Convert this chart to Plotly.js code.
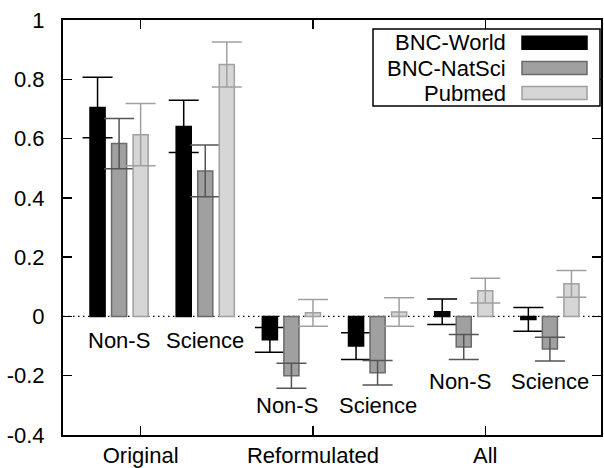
<!DOCTYPE html>
<html>
<head>
<meta charset="utf-8">
<script src="https://cdn.plot.ly/plotly-3.0.1.min.js"></script>
<style>html,body{margin:0;padding:0;background:#fff;}#chart{width:604px;height:468px;}</style>
</head>
<body>
<div id="chart"></div>
<script>
// ---- data ----
const clusterLabels = ['Non-S', 'Science', 'Non-S', 'Science', 'Non-S', 'Science'];
const groupLabels = ['Original', 'Reformulated', 'All'];
const seriesNames = ['BNC-World', 'BNC-NatSci', 'Pubmed'];
const bncWorld = [0.705, 0.641, -0.079, -0.100, 0.016, -0.010];
const bncWorldErr = [0.102, 0.088, 0.042, 0.045, 0.043, 0.040];
const bncNatSci = [0.583, 0.491, -0.200, -0.190, -0.103, -0.110];
const bncNatSciErr = [0.085, 0.087, 0.042, 0.041, 0.042, 0.040];
const pubmed = [0.613, 0.850, 0.012, 0.015, 0.087, 0.110];
const pubmedErr = [0.105, 0.076, 0.045, 0.048, 0.042, 0.045];
const yTickVals = [-0.4, -0.2, 0, 0.2, 0.4, 0.6, 0.8, 1];
const yTickText = ['-0.4', '-0.2', '0', '0.2', '0.4', '0.6', '0.8', '1'];

// ---- styling ----
const FONT = 'Liberation Sans, Arial, sans-serif';
const FS = 22;
const fills = ['#000000', '#a0a0a0', '#d6d6d6'];
const borders = ['#000000', '#6a6a6a', '#a0a0a0'];
const errColors = ['#000000', '#555555', '#a0a0a0'];
const values = [bncWorld, bncNatSci, pubmed];
const errs = [bncWorldErr, bncNatSciErr, pubmedErr];
const xs = clusterLabels.map((_, i) => i);

const traces = seriesNames.map((name, k) => ({
  type: 'bar',
  name: name,
  x: xs,
  y: values[k],
  marker: {color: fills[k], line: {color: borders[k], width: 1.5}},
  error_y: {type: 'data', array: errs[k], visible: true, color: errColors[k], thickness: 1.5, width: 15},
  showlegend: false,
  hoverinfo: 'skip'
}));

// cluster labels (inside the plot)
const labelY = [-0.08, -0.08, -0.30, -0.30, -0.22, -0.22];
const annotations = clusterLabels.map((t, i) => ({
  text: t, x: i, y: labelY[i], xref: 'x', yref: 'y',
  showarrow: false, xanchor: 'center', yanchor: 'middle',
  xshift: (t === 'Non-S' && i > 0) ? -4 : 0,
  font: {family: FONT, size: FS, color: '#000'}
}));

// custom gnuplot-style legend: text right-aligned, swatch on the right
const L = 63, R = 601, T = 20, B = 435;
const px = v => (v - L) / (R - L);
const py = v => (B - v) / (B - T);
const rowY = [42.7, 68, 93];
const shapes = [
  {type: 'line', xref: 'paper', yref: 'y', x0: 0, x1: 1, y0: 0, y1: 0,
   line: {color: '#000', width: 1.2, dash: '1.5px,3.5px'}, layer: 'below'},
  {type: 'rect', xref: 'paper', yref: 'paper', x0: px(373), x1: px(600), y0: py(106), y1: py(29),
   line: {color: '#000', width: 1.5}, fillcolor: '#fff', layer: 'above'}
];
seriesNames.forEach((n, k) => {
  annotations.push({
    text: n, xref: 'paper', yref: 'paper', x: px(508), y: py(rowY[k]),
    xanchor: 'right', yanchor: 'middle', showarrow: false,
    font: {family: FONT, size: FS, color: '#000'}
  });
  shapes.push({
    type: 'rect', xref: 'paper', yref: 'paper',
    x0: px(522), x1: px(587), y0: py(rowY[k] + 6.5), y1: py(rowY[k] - 6.5),
    fillcolor: fills[k], line: {color: borders[k], width: 1.5}, layer: 'above'
  });
});

const layout = {
  width: 604, height: 468,
  margin: {l: L, r: 604 - R, t: T, b: 468 - B, pad: 0},
  paper_bgcolor: '#fff', plot_bgcolor: '#fff',
  barmode: 'group', bargap: 0.25, bargroupgap: 0.30,
  showlegend: false,
  font: {family: FONT, size: FS, color: '#000'},
  xaxis: {
    range: [-0.651, 5.593],
    tickmode: 'array', tickvals: [0.25, 2.25, 4.25], ticktext: groupLabels,
    ticks: 'inside', ticklen: 9, tickwidth: 1.5, tickcolor: '#000',
    showline: true, linecolor: '#000', linewidth: 2, mirror: 'ticks',
    showgrid: false, zeroline: false, ticklabelstandoff: 0,
    tickfont: {family: FONT, size: FS, color: '#000'}
  },
  yaxis: {
    range: [-0.4, 1],
    tickmode: 'array', tickvals: yTickVals, ticktext: yTickText,
    ticks: 'inside', ticklen: 9, tickwidth: 1.5, tickcolor: '#000',
    showline: true, linecolor: '#000', linewidth: 2, mirror: 'ticks',
    showgrid: false, zeroline: false, ticklabelstandoff: 12,
    tickfont: {family: FONT, size: FS, color: '#000'}
  },
  annotations: annotations,
  shapes: shapes
};

Plotly.newPlot('chart', traces, layout, {staticPlot: true, displayModeBar: false});
</script>
</body>
</html>
